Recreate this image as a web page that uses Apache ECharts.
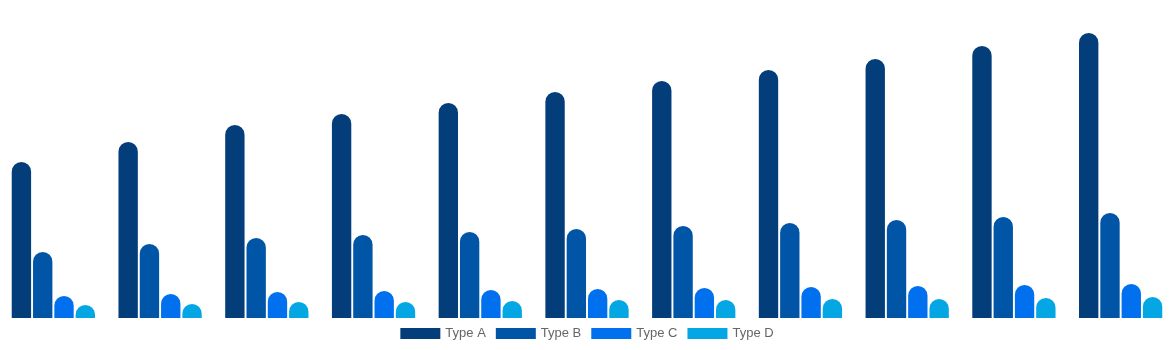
<!DOCTYPE html>
<html>
<head>
<meta charset="utf-8">
<script src="https://cdn.jsdelivr.net/npm/echarts@6/dist/echarts.min.js"></script>
<style>html,body{margin:0;padding:0;background:#fff;}#c{width:1174px;height:350px;}</style>
</head>
<body>
<div id="c"></div>
<script>
var categories = ['1','2','3','4','5','6','7','8','9','10','11'];
var seriesNames = ['Type A','Type B','Type C','Type D'];
var typeA = [156, 176, 193, 204, 215, 226, 237, 248, 259, 272, 285];
var typeB = [66, 74, 80, 83, 86, 89, 92, 95, 98, 101, 105];
var typeC = [22, 24, 26, 27, 28, 29, 30, 31, 32, 33, 34];
var typeD = [13, 14, 16, 16, 17, 18, 18, 19, 19, 20, 21];
var colors = ['#033d7a', '#0055a6', '#0070ee', '#05a6e4'];

var dataSets = [typeA, typeB, typeC, typeD];
var chart = echarts.init(document.getElementById('c'));
chart.setOption({
  animation: false,
  color: colors,
  grid: {left: 0, right: 0, top: 18, bottom: 32, containLabel: false},
  legend: {
    top: 322,
    left: 'center',
    icon: 'rect',
    itemWidth: 40,
    itemHeight: 11,
    itemGap: 10,
    textStyle: {color: '#666', fontSize: 13, fontFamily: 'Arial, "Liberation Sans", sans-serif'},
    data: seriesNames
  },
  xAxis: {
    type: 'category',
    data: categories,
    show: false
  },
  yAxis: {
    type: 'value',
    min: 0,
    max: 300,
    show: false
  },
  series: seriesNames.map(function(n, i){
    return {
      name: n,
      type: 'bar',
      data: dataSets[i],
      barGap: '10%',
      barCategoryGap: '22%',
      itemStyle: {borderRadius: [10, 10, 0, 0]}
    };
  })
});
</script>
</body>
</html>
